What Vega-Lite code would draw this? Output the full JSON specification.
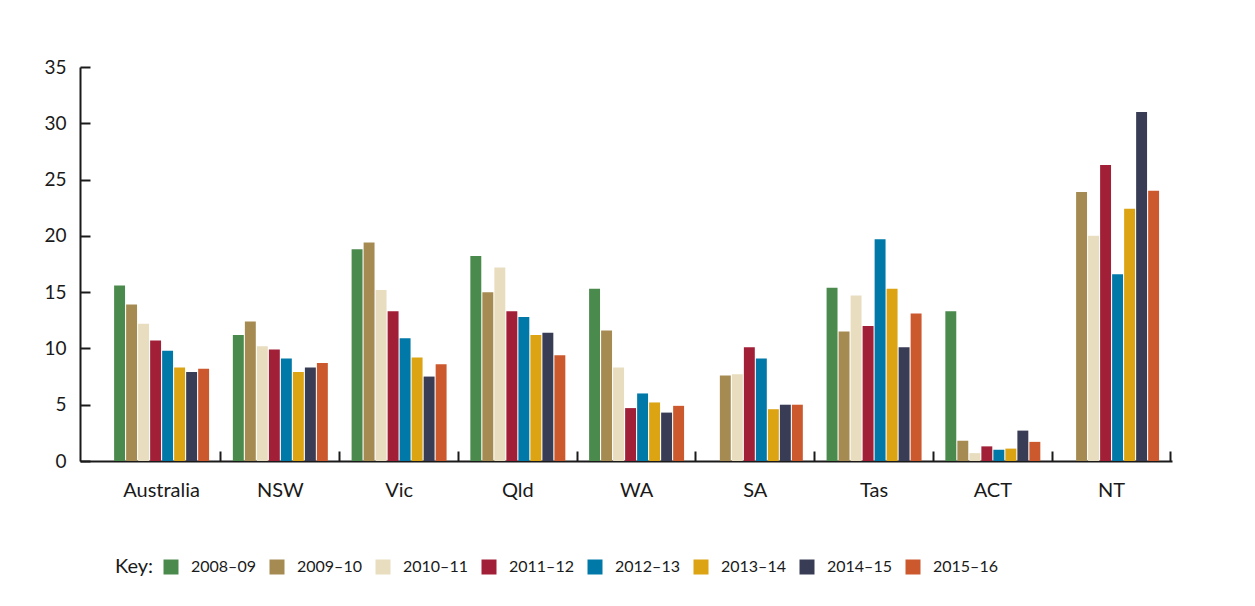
{
  "$schema": "https://vega.github.io/schema/vega-lite/v6.json",
  "autosize": {"type": "none"},
  "width": 1092,
  "height": 394,
  "padding": {"left": 80, "top": 67, "right": 83, "bottom": 145},
  "background": "white",
  "config": {
    "font": "Lato",
    "view": {"stroke": null},
    "axis": {"labelColor": "#1a1a1a", "domainColor": "#1a1a1a", "tickColor": "#1a1a1a", "labelFont": "Lato"}
  },
  "data": {"values": [
    {"region": "Australia", "year": "2008–09", "value": 15.6},
    {"region": "Australia", "year": "2009–10", "value": 13.9},
    {"region": "Australia", "year": "2010–11", "value": 12.2},
    {"region": "Australia", "year": "2011–12", "value": 10.7},
    {"region": "Australia", "year": "2012–13", "value": 9.8},
    {"region": "Australia", "year": "2013–14", "value": 8.3},
    {"region": "Australia", "year": "2014–15", "value": 7.9},
    {"region": "Australia", "year": "2015–16", "value": 8.2},
    {"region": "NSW", "year": "2008–09", "value": 11.2},
    {"region": "NSW", "year": "2009–10", "value": 12.4},
    {"region": "NSW", "year": "2010–11", "value": 10.2},
    {"region": "NSW", "year": "2011–12", "value": 9.9},
    {"region": "NSW", "year": "2012–13", "value": 9.1},
    {"region": "NSW", "year": "2013–14", "value": 7.9},
    {"region": "NSW", "year": "2014–15", "value": 8.3},
    {"region": "NSW", "year": "2015–16", "value": 8.7},
    {"region": "Vic", "year": "2008–09", "value": 18.8},
    {"region": "Vic", "year": "2009–10", "value": 19.4},
    {"region": "Vic", "year": "2010–11", "value": 15.2},
    {"region": "Vic", "year": "2011–12", "value": 13.3},
    {"region": "Vic", "year": "2012–13", "value": 10.9},
    {"region": "Vic", "year": "2013–14", "value": 9.2},
    {"region": "Vic", "year": "2014–15", "value": 7.5},
    {"region": "Vic", "year": "2015–16", "value": 8.6},
    {"region": "Qld", "year": "2008–09", "value": 18.2},
    {"region": "Qld", "year": "2009–10", "value": 15.0},
    {"region": "Qld", "year": "2010–11", "value": 17.2},
    {"region": "Qld", "year": "2011–12", "value": 13.3},
    {"region": "Qld", "year": "2012–13", "value": 12.8},
    {"region": "Qld", "year": "2013–14", "value": 11.2},
    {"region": "Qld", "year": "2014–15", "value": 11.4},
    {"region": "Qld", "year": "2015–16", "value": 9.4},
    {"region": "WA", "year": "2008–09", "value": 15.3},
    {"region": "WA", "year": "2009–10", "value": 11.6},
    {"region": "WA", "year": "2010–11", "value": 8.3},
    {"region": "WA", "year": "2011–12", "value": 4.7},
    {"region": "WA", "year": "2012–13", "value": 6.0},
    {"region": "WA", "year": "2013–14", "value": 5.2},
    {"region": "WA", "year": "2014–15", "value": 4.3},
    {"region": "WA", "year": "2015–16", "value": 4.9},
    {"region": "SA", "year": "2009–10", "value": 7.6},
    {"region": "SA", "year": "2010–11", "value": 7.7},
    {"region": "SA", "year": "2011–12", "value": 10.1},
    {"region": "SA", "year": "2012–13", "value": 9.1},
    {"region": "SA", "year": "2013–14", "value": 4.6},
    {"region": "SA", "year": "2014–15", "value": 5.0},
    {"region": "SA", "year": "2015–16", "value": 5.0},
    {"region": "Tas", "year": "2008–09", "value": 15.4},
    {"region": "Tas", "year": "2009–10", "value": 11.5},
    {"region": "Tas", "year": "2010–11", "value": 14.7},
    {"region": "Tas", "year": "2011–12", "value": 12.0},
    {"region": "Tas", "year": "2012–13", "value": 19.7},
    {"region": "Tas", "year": "2013–14", "value": 15.3},
    {"region": "Tas", "year": "2014–15", "value": 10.1},
    {"region": "Tas", "year": "2015–16", "value": 13.1},
    {"region": "ACT", "year": "2008–09", "value": 13.3},
    {"region": "ACT", "year": "2009–10", "value": 1.8},
    {"region": "ACT", "year": "2010–11", "value": 0.7},
    {"region": "ACT", "year": "2011–12", "value": 1.3},
    {"region": "ACT", "year": "2012–13", "value": 1.0},
    {"region": "ACT", "year": "2013–14", "value": 1.1},
    {"region": "ACT", "year": "2014–15", "value": 2.7},
    {"region": "ACT", "year": "2015–16", "value": 1.7},
    {"region": "NT", "year": "2009–10", "value": 23.9},
    {"region": "NT", "year": "2010–11", "value": 20.0},
    {"region": "NT", "year": "2011–12", "value": 26.3},
    {"region": "NT", "year": "2012–13", "value": 16.6},
    {"region": "NT", "year": "2013–14", "value": 22.4},
    {"region": "NT", "year": "2014–15", "value": 31.0},
    {"region": "NT", "year": "2015–16", "value": 24.0}
  ]},
  "mark": {"type": "bar"},
  "encoding": {
    "x": {
      "field": "region", "type": "nominal",
      "sort": ["Australia", "NSW", "Vic", "Qld", "WA", "SA", "Tas", "ACT", "NT"],
      "scale": {"paddingInner": 0, "paddingOuter": 0.098, "align": 0.955},
      "axis": {
        "title": null, "labelAngle": 0, "bandPosition": 1,
        "tickSize": -10, "tickWidth": 2, "domainWidth": 2,
        "labelFontSize": 20, "labelPadding": 29
      }
    },
    "xOffset": {
      "field": "year", "type": "nominal",
      "scale": {"domain": ["2008–09", "2009–10", "2010–11", "2011–12", "2012–13", "2013–14", "2014–15", "2015–16"], "paddingInner": 0.09, "paddingOuter": 0.99}
    },
    "y": {
      "field": "value", "type": "quantitative",
      "scale": {"domain": [0, 35], "nice": false},
      "axis": {
        "title": null, "values": [0, 5, 10, 15, 20, 25, 30, 35], "grid": false,
        "tickSize": -10, "tickWidth": 2, "domainWidth": 2,
        "labelFontSize": 19, "labelPadding": 24
      }
    },
    "color": {
      "field": "year", "type": "nominal",
      "scale": {
        "domain": ["2008–09", "2009–10", "2010–11", "2011–12", "2012–13", "2013–14", "2014–15", "2015–16"],
        "range": ["#4A8A4C", "#A58B52", "#E8DDBF", "#A21F38", "#0079A8", "#DCA313", "#383C55", "#CC582E"]
      },
      "legend": {
        "title": "Key:", "titleOrient": "left", "titleFontWeight": "normal", "titleFontSize": 20,
        "titleColor": "#1a1a1a", "titlePadding": 9, "titleFont": "Lato",
        "orient": "none", "legendX": 35, "legendY": 492,
        "direction": "horizontal", "columns": 8, "columnPadding": 13,
        "symbolType": "square", "symbolSize": 225, "symbolStrokeWidth": 0,
        "labelFontSize": 16, "labelColor": "#1a1a1a", "labelOffset": 12, "labelFont": "Lato"
      }
    }
  }
}
